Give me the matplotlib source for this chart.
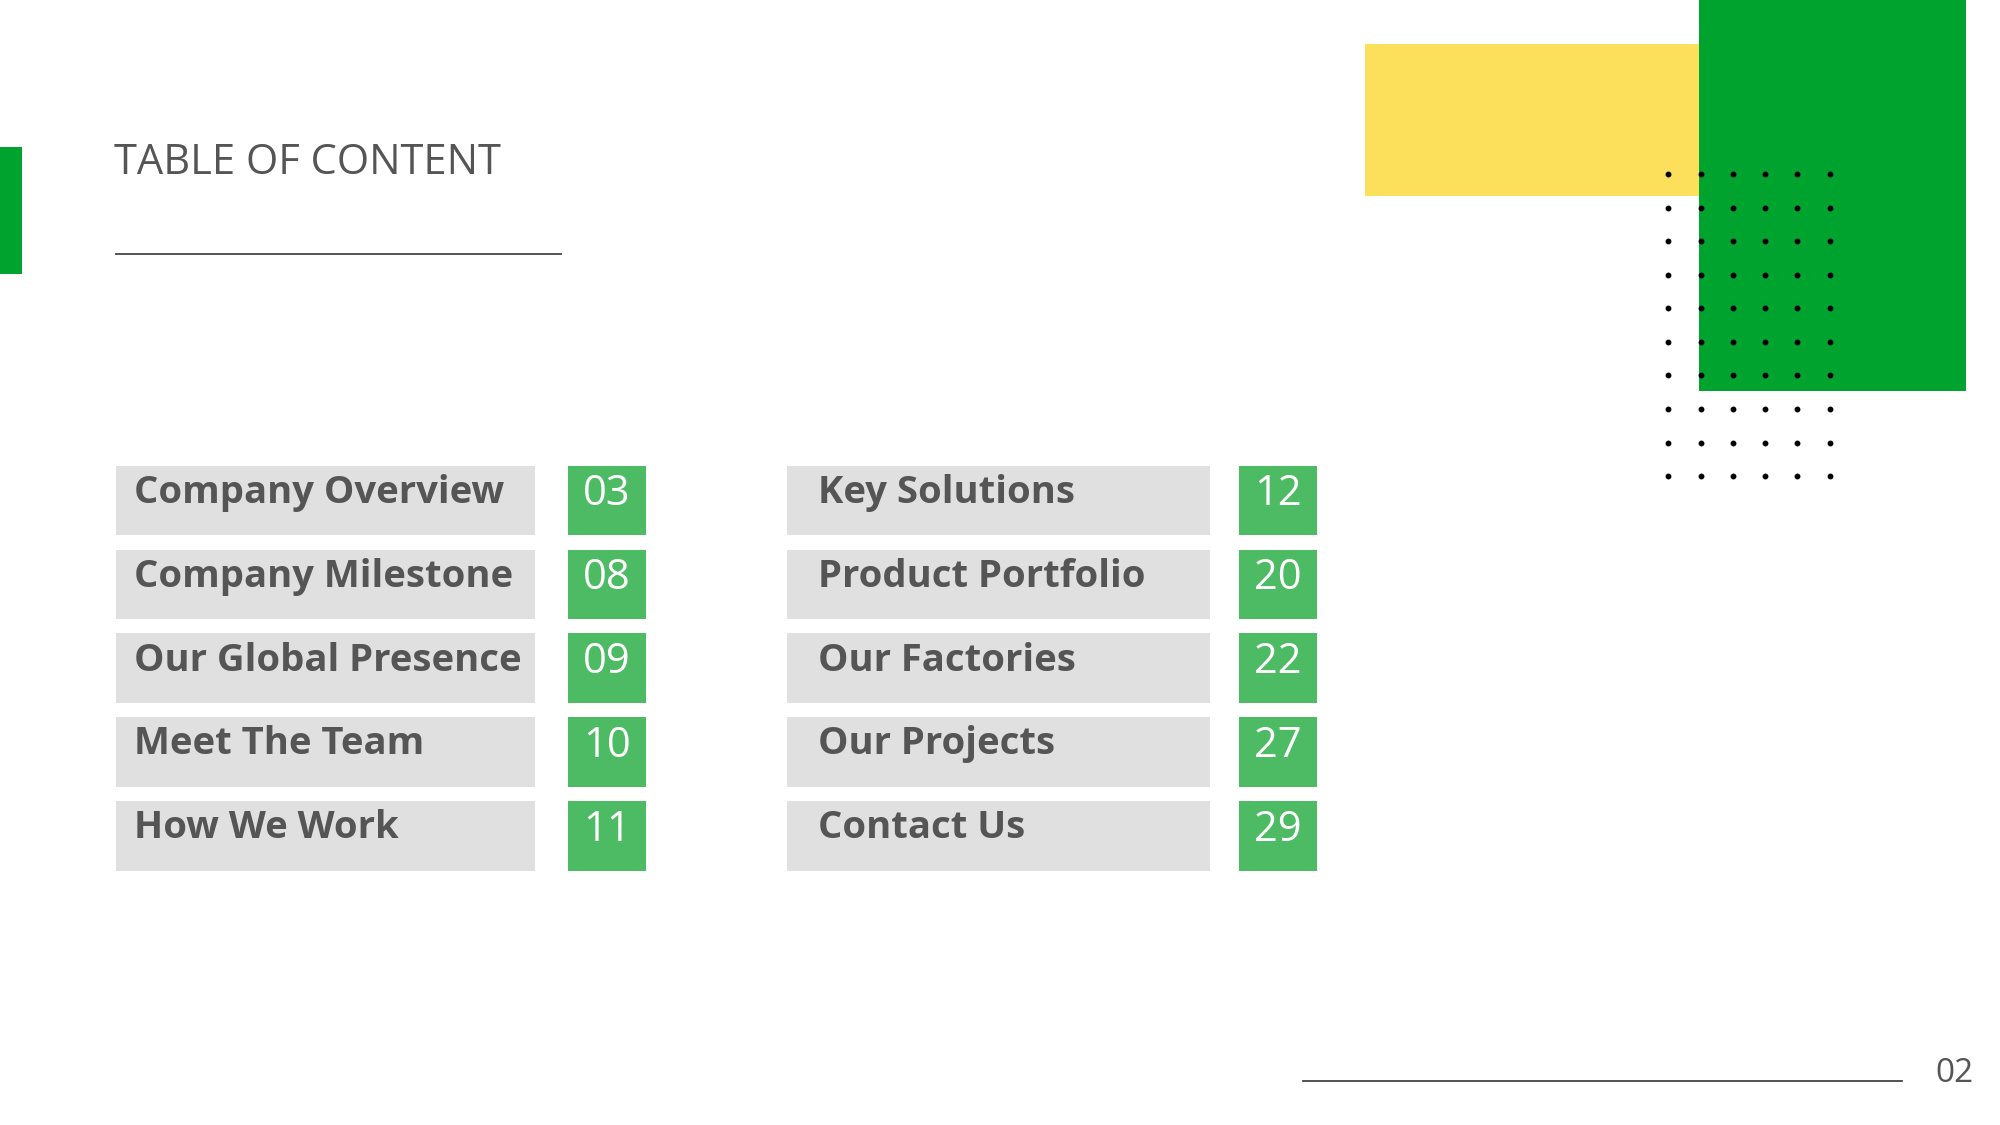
import matplotlib
matplotlib.use("Agg")
import matplotlib.pyplot as plt
from matplotlib.patches import Rectangle

# ── content ───────────────────────────────────────────────────────────────────
LEFT_ITEMS  = ["Company Overview", "Company Milestone", "Our Global Presence",
               "Meet The Team", "How We Work"]
LEFT_PAGES  = ["03", "08", "09", "10", "11"]
RIGHT_ITEMS = ["Key Solutions", "Product Portfolio", "Our Factories",
               "Our Projects", "Contact Us"]
RIGHT_PAGES = ["12", "20", "22", "27", "29"]
TITLE = "TABLE OF CONTENT"
PAGE_NO = "02"

GREEN  = "#00a32e"
GREEN2 = "#4cbb63"
YELLOW = "#fcdf5a"
GREY   = "#e0e0e0"
TEXT   = "#555555"

W, H = 1550, 872
fig = plt.figure(figsize=(20, 11.25), dpi=100)
ax = fig.add_axes([0, 0, 1, 1])
ax.set_xlim(0, W)
ax.set_ylim(H, 0)
ax.axis("off")

def rect(x0, y0, x1, y1, c):
    ax.add_patch(Rectangle((x0, y0), x1 - x0, y1 - y0, color=c, lw=0))

# decoration
rect(0, 114, 17, 212, GREEN)
rect(1058, 34, 1318, 152, YELLOW)
rect(1317, 0, 1524, 303, GREEN)
for i in range(6):
    for j in range(10):
        ax.plot(1293 + 25 * i, 135 + 26 * j, "o", color="black", ms=3.2)

ax.text(88, 126, TITLE, fontsize=30, color=TEXT, family="Open Sans",
        va="center", ha="left")
ax.plot([90, 435], [197, 197], color="#444444", lw=1.3)

ax.plot([1010, 1474], [838, 838], color="#444444", lw=1.3)
ax.text(1500, 832, PAGE_NO, fontsize=24, color=TEXT, family="Open Sans",
        va="center", ha="left")

# rows
row_top = [361, 426, 491, 556, 621]
for col, (items, pages) in enumerate([(LEFT_ITEMS, LEFT_PAGES),
                                      (RIGHT_ITEMS, RIGHT_PAGES)]):
    bx0, bx1 = (90, 415) if col == 0 else (610, 938)
    nx0, nx1 = (440, 501) if col == 0 else (960, 1021)
    tx = 104 if col == 0 else 634
    for k, (name, pg) in enumerate(zip(items, pages)):
        y0 = row_top[k]
        rect(bx0, y0, bx1, y0 + 54, GREY)
        rect(nx0, y0, nx1, y0 + 54, GREEN2)
        ax.text(tx, y0 + 21, name, fontsize=27.5, weight="bold", color=TEXT,
                family="Open Sans", va="center", ha="left")
        ax.text((nx0 + nx1) / 2, y0 + 22, pg, fontsize=30, color="white",
                family="Open Sans", va="center", ha="center")

fig.savefig("out.png", dpi=100, facecolor="white")
